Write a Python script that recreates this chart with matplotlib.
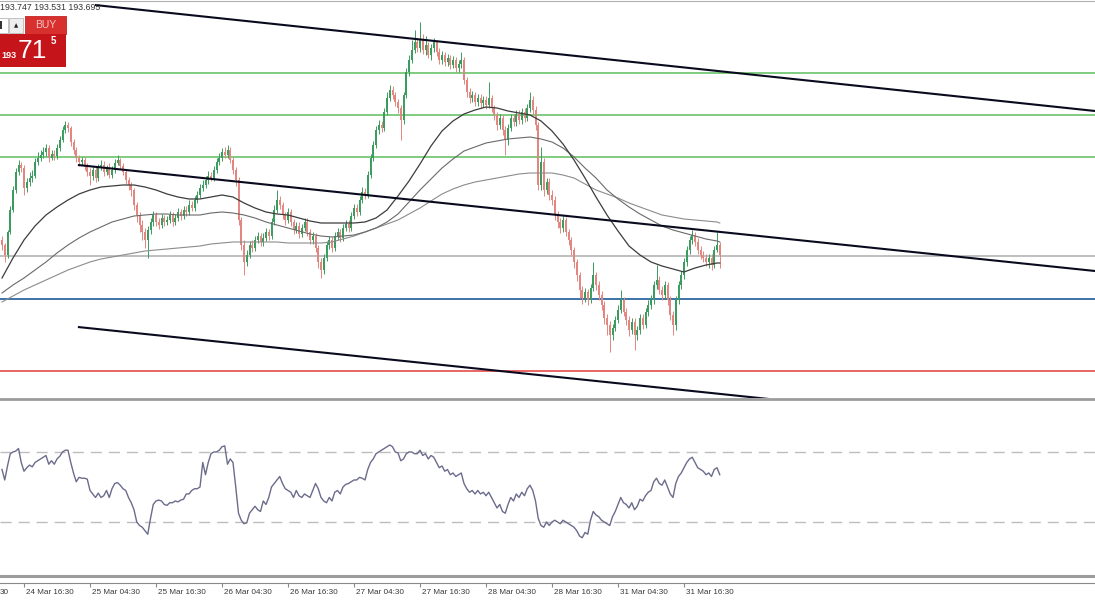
import matplotlib
matplotlib.use("Agg")
import matplotlib.pyplot as plt
from matplotlib.patches import Rectangle
import numpy as np

plt.rcParams['font.family'] = ['Liberation Sans', 'DejaVu Sans']

# GBPJPY M30, bar 0 = 24 Mar 12:30 ... bar 261 = 31 Mar 19:00
first_open = 193.87
close = [
    193.82, 193.72, 193.95, 194.17, 194.37, 194.55, 194.62, 194.59, 194.39, 194.45,
    194.49, 194.51, 194.65, 194.69, 194.72, 194.75, 194.79, 194.69, 194.73, 194.71,
    194.79, 194.87, 194.97, 195.02, 194.99, 194.85, 194.77, 194.69, 194.65, 194.67,
    194.61, 194.55, 194.51, 194.57, 194.49, 194.59, 194.62, 194.55, 194.59, 194.52,
    194.57, 194.64, 194.67, 194.61, 194.55, 194.47, 194.42, 194.37, 194.22, 194.12,
    194.02, 193.95, 193.87, 193.97, 194.05, 194.12, 194.05, 194.02, 194.09, 194.05,
    194.07, 194.12, 194.05, 194.09, 194.15, 194.11, 194.17, 194.15, 194.22, 194.19,
    194.27, 194.32, 194.39, 194.42, 194.47, 194.51, 194.49, 194.57, 194.65, 194.69,
    194.75, 194.72, 194.77, 194.67, 194.57, 194.47, 194.07, 193.82, 193.65, 193.72,
    193.82, 193.79, 193.87, 193.91, 193.85, 193.89, 193.95, 193.91, 194.05, 194.17,
    194.27, 194.22, 194.12, 194.07, 194.15, 194.05, 193.97, 194.01, 193.93, 193.99,
    194.05, 193.95, 193.87, 193.91, 193.79, 193.65, 193.57, 193.69, 193.82, 193.87,
    193.79, 193.91, 193.95, 193.89, 193.99, 194.03, 193.99, 194.11, 194.19, 194.15,
    194.27, 194.35, 194.32, 194.52, 194.69, 194.82, 194.97, 195.02, 194.99, 195.15,
    195.29, 195.37, 195.32, 195.25, 195.19, 195.07, 195.32, 195.55, 195.67, 195.77,
    195.85, 195.79, 195.87, 195.77, 195.82, 195.72, 195.79, 195.85, 195.75, 195.67,
    195.72, 195.65, 195.69, 195.62, 195.67, 195.59, 195.63, 195.67, 195.47, 195.35,
    195.29, 195.32, 195.25, 195.29, 195.24, 195.27, 195.22, 195.29, 195.19, 195.12,
    195.02, 195.09, 194.97, 194.87, 194.99, 195.09, 195.05, 195.13, 195.07, 195.15,
    195.09, 195.19, 195.27, 195.17, 195.02, 194.42, 194.65, 194.37, 194.45, 194.32,
    194.27, 194.12, 194.05, 193.99, 194.07, 193.95, 193.87, 193.77, 193.65, 193.52,
    193.37, 193.29, 193.35, 193.27, 193.39, 193.52, 193.42, 193.32, 193.22, 193.09,
    193.02, 192.92, 192.99, 193.07, 193.17, 193.27, 193.15, 193.07, 192.97, 193.05,
    192.92, 192.97, 193.09, 193.02, 193.15, 193.22, 193.27, 193.42, 193.47, 193.37,
    193.32, 193.42, 193.27, 193.12, 193.02, 193.27, 193.42, 193.52, 193.65, 193.77,
    193.87, 193.92, 193.85, 193.77, 193.72, 193.69, 193.65, 193.69, 193.62, 193.77,
    193.82, 193.72]
high = [
    193.91, 193.84, 193.97, 194.21, 194.41, 194.59, 194.67, 194.65, 194.62, 194.49,
    194.55, 194.57, 194.69, 194.75, 194.77, 194.80, 194.83, 194.82, 194.77, 194.77,
    194.83, 194.91, 195.01, 195.06, 195.05, 195.01, 194.88, 194.80, 194.72, 194.70,
    194.70, 194.64, 194.59, 194.61, 194.61, 194.63, 194.67, 194.66, 194.62, 194.64,
    194.61, 194.68, 194.72, 194.69, 194.64, 194.57, 194.50, 194.45, 194.39, 194.25,
    194.15, 194.07, 193.99, 194.01, 194.09, 194.16, 194.15, 194.09, 194.13, 194.12,
    194.11, 194.16, 194.15, 194.13, 194.19, 194.18, 194.21, 194.21, 194.27, 194.26,
    194.31, 194.36, 194.43, 194.47, 194.51, 194.56, 194.55, 194.61, 194.69, 194.74,
    194.79, 194.80, 194.82, 194.80, 194.70, 194.60, 194.50, 194.10, 193.87, 193.77,
    193.86, 193.87, 193.91, 193.95, 193.94, 193.94, 193.99, 193.98, 194.09, 194.22,
    194.37, 194.31, 194.25, 194.15, 194.19, 194.18, 194.08, 194.05, 194.05, 194.03,
    194.09, 194.09, 193.98, 193.95, 193.94, 193.82, 193.69, 193.73, 193.86, 193.91,
    193.90, 193.95, 193.99, 193.98, 194.03, 194.07, 194.07, 194.15, 194.23, 194.23,
    194.31, 194.40, 194.39, 194.56, 194.73, 194.86, 195.01, 195.07, 195.06, 195.19,
    195.35, 195.42, 195.41, 195.35, 195.28, 195.22, 195.35, 195.59, 195.72, 195.87,
    195.97, 195.89, 196.05, 195.93, 195.91, 195.85, 195.83, 195.89, 195.87, 195.79,
    195.76, 195.75, 195.73, 195.72, 195.71, 195.70, 195.67, 195.75, 195.70, 195.50,
    195.39, 195.36, 195.35, 195.33, 195.33, 195.31, 195.31, 195.45, 195.32, 195.22,
    195.15, 195.13, 195.12, 195.01, 195.03, 195.13, 195.13, 195.17, 195.17, 195.19,
    195.19, 195.23, 195.35, 195.31, 195.21, 195.05, 194.80, 194.69, 194.49, 194.49,
    194.37, 194.31, 194.16, 194.09, 194.11, 194.10, 193.98, 193.90, 193.80, 193.68,
    193.55, 193.41, 193.39, 193.38, 193.43, 193.65, 193.55, 193.46, 193.36, 193.26,
    193.13, 193.06, 193.03, 193.11, 193.22, 193.37, 193.30, 193.19, 193.11, 193.09,
    193.09, 193.01, 193.13, 193.13, 193.19, 193.27, 193.32, 193.46, 193.62, 193.51,
    193.41, 193.46, 193.45, 193.31, 193.16, 193.31, 193.46, 193.56, 193.69, 193.81,
    193.91, 193.97, 193.95, 193.89, 193.81, 193.76, 193.73, 193.73, 193.73, 193.81,
    193.95, 193.85]
low = [
    193.77, 193.65, 193.69, 193.93, 194.15, 194.34, 194.52, 194.55, 194.32, 194.35,
    194.41, 194.45, 194.49, 194.62, 194.66, 194.69, 194.71, 194.65, 194.67, 194.67,
    194.68, 194.76, 194.85, 194.94, 194.95, 194.81, 194.73, 194.65, 194.61, 194.62,
    194.57, 194.51, 194.42, 194.47, 194.45, 194.46, 194.57, 194.51, 194.52, 194.49,
    194.49, 194.54, 194.62, 194.58, 194.52, 194.43, 194.37, 194.31, 194.17, 194.05,
    193.95, 193.87, 193.79, 193.69, 193.93, 194.01, 194.01, 193.98, 193.99, 194.01,
    194.02, 194.04, 194.01, 194.02, 194.06, 194.07, 194.08, 194.11, 194.12, 194.16,
    194.16, 194.24, 194.29, 194.36, 194.39, 194.43, 194.46, 194.46, 194.54, 194.62,
    194.66, 194.69, 194.69, 194.64, 194.53, 194.41, 194.02, 193.77, 193.52, 193.61,
    193.69, 193.75, 193.76, 193.84, 193.81, 193.81, 193.86, 193.87, 193.88, 194.02,
    194.14, 194.18, 194.08, 194.02, 194.04, 194.01, 193.93, 193.94, 193.89, 193.90,
    193.96, 193.91, 193.83, 193.83, 193.75, 193.59, 193.49, 193.53, 193.66, 193.78,
    193.75, 193.76, 193.87, 193.85, 193.86, 193.96, 193.95, 193.96, 194.08, 194.11,
    194.12, 194.24, 194.28, 194.29, 194.49, 194.66, 194.79, 194.93, 194.95, 194.96,
    195.12, 195.26, 195.28, 195.21, 195.14, 194.87, 195.03, 195.29, 195.51, 195.64,
    195.74, 195.75, 195.75, 195.73, 195.72, 195.69, 195.67, 195.75, 195.71, 195.63,
    195.63, 195.61, 195.61, 195.58, 195.59, 195.55, 195.55, 195.59, 195.43, 195.30,
    195.24, 195.25, 195.21, 195.21, 195.19, 195.20, 195.18, 195.19, 195.15, 195.07,
    194.97, 194.98, 194.92, 194.72, 194.82, 194.96, 195.01, 195.01, 195.03, 195.03,
    195.05, 195.06, 195.15, 195.13, 194.97, 194.37, 194.37, 194.31, 194.33, 194.27,
    194.22, 194.07, 193.99, 193.94, 193.95, 193.91, 193.82, 193.72, 193.59, 193.46,
    193.29, 193.23, 193.25, 193.22, 193.24, 193.36, 193.37, 193.27, 193.17, 193.03,
    192.92, 192.75, 192.87, 192.96, 193.04, 193.14, 193.11, 193.02, 192.91, 192.93,
    192.77, 192.87, 192.93, 192.98, 192.99, 193.11, 193.18, 193.23, 193.38, 193.33,
    193.27, 193.28, 193.22, 193.07, 192.92, 192.97, 193.23, 193.38, 193.48, 193.61,
    193.73, 193.83, 193.81, 193.73, 193.68, 193.65, 193.61, 193.59, 193.57, 193.59,
    193.75, 193.59]

# RSI(14), one value per bar
rsi = [
    60, 54, 62, 69, 70, 70.5, 72, 64, 59, 61,
    62.5, 61.5, 64, 65, 66, 67, 68, 63, 65, 63,
    66, 67.5, 70, 71, 71, 64, 58, 53, 55.5, 55,
    55, 54.5, 48, 46, 44, 46.5, 44, 45, 48, 44,
    49, 52, 52.5, 51, 49, 48, 44, 41, 37, 30,
    28, 27, 25, 23, 32, 40, 42, 42.5, 42, 40,
    39.5, 41, 41, 42, 41.5, 42.5, 43, 46, 46, 48,
    49, 49, 50, 64, 57, 64, 69, 70, 70, 71,
    73, 73.5, 63, 66, 64, 50, 35, 31, 29, 29.5,
    35, 37, 39, 37, 36, 42, 40, 44, 50, 52,
    54, 56, 52, 49, 48, 47, 44, 48, 45, 44,
    46, 45, 44, 48, 52, 49, 44, 42, 41, 44,
    42, 47, 48, 46, 50, 51.5, 52, 53, 54, 54,
    55.5, 55, 54, 60, 64, 66, 69, 70, 71, 72,
    73, 74, 73, 70, 69.5, 65, 66, 69, 70, 70,
    69, 69, 71, 68, 69, 66, 68, 67, 64, 61,
    62, 59, 60, 57, 58, 56, 57, 58, 52, 49,
    47, 48, 46, 48, 46, 47, 45, 47, 44, 41,
    38, 40, 36, 35, 40, 44, 42, 46, 44, 47,
    45, 49, 51, 48, 42, 32, 28, 27, 30, 28,
    30, 31, 30, 29, 31, 30, 29, 28, 27, 25,
    22, 21, 24, 23, 31, 36, 34, 33, 31, 30,
    29, 28, 33, 36, 40, 44, 41, 40, 38, 41,
    37, 39, 43, 42, 45, 47, 48, 53, 55, 52,
    51, 54, 50, 46, 44, 52, 56, 58, 61, 64,
    66, 67, 64, 61, 60, 59, 57, 58, 56, 60,
    61, 57]

# moving averages, read every 4 bars
ma_idx = list(range(0, 261, 4)) + [261]
ma_fast = [
    193.49, 193.69, 193.87, 194.01, 194.12, 194.20, 194.27, 194.33, 194.37, 194.40,
    194.41, 194.42, 194.42, 194.40, 194.37, 194.33, 194.30, 194.28, 194.28, 194.30,
    194.32, 194.30, 194.24, 194.19, 194.15, 194.13, 194.12, 194.09, 194.06, 194.04,
    194.04, 194.04, 194.04, 194.05, 194.09, 194.17, 194.31, 194.46, 194.63, 194.81,
    194.96, 195.06, 195.13, 195.17, 195.20, 195.19, 195.16, 195.14, 195.12, 195.06,
    194.96, 194.83, 194.67, 194.49, 194.30, 194.12, 193.96, 193.81, 193.72, 193.65,
    193.61, 193.58, 193.55, 193.59, 193.62, 193.64, 193.64]
ma_mid = [
    193.34, 193.42, 193.49, 193.57, 193.65, 193.74, 193.82, 193.89, 193.95, 194.00,
    194.05, 194.08, 194.11, 194.12, 194.13, 194.13, 194.12, 194.12, 194.12, 194.14,
    194.15, 194.14, 194.12, 194.09, 194.05, 194.02, 193.99, 193.96, 193.93, 193.91,
    193.90, 193.91, 193.92, 193.95, 193.99, 194.05, 194.13, 194.25, 194.37, 194.48,
    194.59, 194.68, 194.76, 194.80, 194.84, 194.86, 194.88, 194.89, 194.90, 194.88,
    194.85, 194.79, 194.70, 194.59, 194.49, 194.37, 194.28, 194.20, 194.13, 194.07,
    194.01, 193.97, 193.94, 193.91, 193.88, 193.86, 193.85]
ma_slow = [
    193.25, 193.31, 193.37, 193.42, 193.47, 193.52, 193.57, 193.61, 193.65, 193.68,
    193.70, 193.72, 193.74, 193.76, 193.77, 193.78, 193.79, 193.80, 193.81, 193.83,
    193.84, 193.85, 193.85, 193.85, 193.85, 193.85, 193.84, 193.84, 193.84, 193.84,
    193.85, 193.88, 193.91, 193.95, 193.99, 194.03, 194.07, 194.13, 194.19, 194.26,
    194.33, 194.38, 194.42, 194.45, 194.47, 194.49, 194.51, 194.53, 194.54, 194.54,
    194.54, 194.52, 194.49, 194.43, 194.37, 194.33, 194.29, 194.24, 194.20, 194.16,
    194.12, 194.10, 194.08, 194.07, 194.06, 194.05, 194.04]

tick_idx = [-16, 8, 32, 56, 80, 104, 128, 152, 176, 200, 224, 248]
tick_lbl = ["24 Mar 04:30", "24 Mar 16:30", "25 Mar 04:30", "25 Mar 16:30",
            "26 Mar 04:30", "26 Mar 16:30", "27 Mar 04:30", "27 Mar 16:30",
            "28 Mar 04:30", "28 Mar 16:30", "31 Mar 04:30", "31 Mar 16:30"]

green_levels = [195.54, 195.12, 194.70]
blue_level = 193.28
red_level = 192.56
bid = 193.715
ohlc_text = "193.747 193.531 193.695"

# channel: (bar, price) -> (bar, price)
channel = [((33.8, 196.22), (397.5, 195.16)),
           ((27.6, 194.62), (397.5, 193.56)),
           ((27.6, 193.00), (397.5, 191.94))]

n = len(close)
assert len(high) == n and len(low) == n and len(rsi) == n
assert len(ma_fast) == len(ma_idx) == len(ma_mid) == len(ma_slow)
W, H = 1095, 600
xlim = (-2 / 2.75, (W - 2) / 2.75)

fig = plt.figure(figsize=(W / 100, H / 100), dpi=100)
fig.patch.set_facecolor('white')

# ---- price panel
ax = fig.add_axes([0, 202 / H, 1, 398 / H])
ax.set_xlim(*xlim)
ax.set_ylim(196.27 - 3.98, 196.27)
ax.axis('off')

for lv in green_levels:
    ax.axhline(lv, color='#5cbf5c', lw=1.1, zorder=1)
ax.axhline(bid, color='#b4b4b4', lw=1.2, zorder=1)
ax.axhline(blue_level, color='#3b73a8', lw=1.4, zorder=1)
ax.axhline(red_level, color='#e33b3b', lw=1.1, zorder=1)

c = np.array(close)
o = np.concatenate([[first_open], c[:-1]])
idx = np.arange(n)
up = c >= o
col = np.where(up, '#3b9c60', '#e48680')
ax.vlines(idx, low, high, colors=col, lw=0.7, zorder=2)
body = np.where(np.abs(c - o) < 0.004, 0.004, c - o)
ax.bar(idx, body, bottom=o, width=0.68, color=col, lw=0, zorder=2)

ax.plot(ma_idx, ma_slow, color='#8c8c8c', lw=0.8, zorder=3)
ax.plot(ma_idx, ma_mid, color='#6a6a6a', lw=0.8, zorder=3)
ax.plot(ma_idx, ma_fast, color='#3c3c3c', lw=0.9, zorder=3)

for (x0, y0), (x1, y1) in channel:
    ax.plot([x0, x1], [y0, y1], color='#0a0a1e', lw=1.5, zorder=4, solid_capstyle='butt')

# ---- RSI panel
ar = fig.add_axes([0, 25 / H, 1, 175 / H])
ar.set_xlim(*xlim)
ar.set_ylim(-0.3, 99.7)
ar.axis('off')
for lv in (70, 30):
    ar.axhline(lv, color='#bdbdbd', lw=1.0, ls=(0, (8, 5)))
ar.plot(idx, rsi, color='#6b6b8c', lw=1.0)

# ---- time scale
at = fig.add_axes([0, 0, 1, 17 / H])
at.set_xticks(tick_idx)
at.set_xlim(*xlim)
at.set_ylim(0, 1)
for s in ('left', 'right', 'bottom'):
    at.spines[s].set_visible(False)
at.spines['top'].set_color('#8a8a8a')
at.spines['top'].set_linewidth(0.8)
at.set_yticks([])
at.tick_params(axis='x', top=True, bottom=False, direction='in', length=3,
               color='#8a8a8a', labelbottom=False, labeltop=False)
for k, lbl in zip(tick_idx, tick_lbl):
    if k < xlim[0]:
        # label scrolled off the left edge: only its tail is visible
        at.text(xlim[0], 0.47, lbl[-2:], fontsize=5.9, color='#3a3a3a',
                ha='left', va='center')
    else:
        at.text(k + 0.8, 0.47, lbl, fontsize=5.9, color='#3a3a3a',
                ha='left', va='center')

# ---- overlay: separators and one-click panel (pixel coords)
ov = fig.add_axes([0, 0, 1, 1], zorder=10)
ov.set_xlim(0, W)
ov.set_ylim(H, 0)
ov.axis('off')
ov.patch.set_alpha(0)
ov.plot([0, W], [399.3, 399.3], color='#9c9c9c', lw=2.0)
ov.plot([0, W], [575.5, 575.5], color='#9c9c9c', lw=2.2)
ov.plot([0, W], [0.5, 0.5], color='#b0b0b0', lw=0.8)

ov.text(0, 8, ohlc_text, fontsize=6.3, color='#333333', ha='left', va='center')
ov.add_patch(Rectangle((-2, 18), 10, 15, facecolor='white', edgecolor='#b8b8b8', lw=0.6))
ov.add_patch(Rectangle((-1, 21), 3, 8, facecolor='#333333', lw=0))
ov.add_patch(Rectangle((9, 18), 14, 15, facecolor='#eeeeee', edgecolor='#b8b8b8', lw=0.6))
ov.text(16, 25.5, "\u25b2", fontsize=4, color='#222222', ha='center', va='center',
        family='DejaVu Sans')
ov.add_patch(Rectangle((25, 16), 41, 18, facecolor='#d8302e', edgecolor='#c42424', lw=0.6))
ov.text(45.5, 25, "BUY", fontsize=7.5, color='#f5c6c4', ha='center', va='center')
ov.add_patch(Rectangle((0, 34), 66, 33, facecolor='#c5151b', lw=0))
ov.text(1, 55, "193", fontsize=6.5, color='white', ha='left', va='center', fontweight='bold')
ov.text(32, 51, "71", fontsize=19, color='white', ha='center', va='center')
ov.text(53, 41, "5", fontsize=7, color='white', ha='center', va='center', fontweight='bold')

fig.savefig('out.png', dpi=100, facecolor='white')
